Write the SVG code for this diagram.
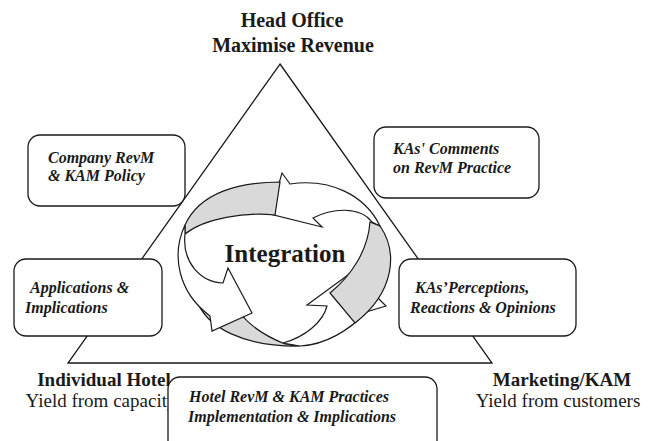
<svg xmlns="http://www.w3.org/2000/svg" width="660" height="441" viewBox="0 0 660 441">
<defs>
<style>
.bg{fill:#ffffff}
.edge{fill:none;stroke:#1a1a1a;stroke-width:1.3;stroke-linejoin:miter}
.box{fill:#ffffff;stroke:#1a1a1a;stroke-width:1.3}
.rib{fill:#ffffff;stroke:#1a1a1a;stroke-width:1.2;stroke-linejoin:miter}
.gray{fill:#d9d9d9;stroke:#1a1a1a;stroke-width:1.2;stroke-linejoin:miter}
.hd{font-family:"Liberation Serif","Times New Roman",serif;font-weight:bold;font-size:20px;fill:#1a1a1a;text-anchor:middle}
.hd2{font-family:"Liberation Serif","Times New Roman",serif;font-weight:bold;font-size:19px;fill:#1a1a1a;text-anchor:middle}
.sub{font-family:"Liberation Serif","Times New Roman",serif;font-size:19px;fill:#1a1a1a;text-anchor:middle}
.bi{font-family:"Liberation Serif","Times New Roman",serif;font-weight:bold;font-style:italic;font-size:16px;fill:#1a1a1a}
.big{font-family:"Liberation Serif","Times New Roman",serif;font-weight:bold;font-size:25px;fill:#1a1a1a;text-anchor:middle}
</style>
</defs>
<rect class="bg" x="0" y="0" width="660" height="441"/>

<g id="connectors">
<polygon class="edge" points="280,64 492,363 68,363"/>
</g>

<g id="head-office">
<text class="hd" x="292" y="27">Head Office</text>
<text class="hd" x="293" y="52">Maximise Revenue</text>
</g>

<g id="individual-hotel">
<text class="hd2" x="104" y="386">Individual Hotel</text>
<text class="sub" x="101" y="407">Yield from capacity</text>
</g>

<g id="marketing-kam">
<text class="hd2" x="562" y="386">Marketing/KAM</text>
<text class="sub" x="558" y="407">Yield from customers</text>
</g>

<g id="company-policy">
<rect class="box" x="28" y="135" width="157" height="71" rx="12"/>
<text class="bi" x="48" y="163">Company RevM</text>
<text class="bi" x="48" y="181">&amp; KAM Policy</text>
</g>

<g id="applications">
<rect class="box" x="14" y="259" width="148" height="77" rx="12"/>
<text class="bi" x="30" y="293">Applications &amp;</text>
<text class="bi" x="25" y="313">Implications</text>
</g>

<g id="kas-comments">
<rect class="box" x="374" y="127" width="165" height="71" rx="12"/>
<text class="bi" x="393" y="154">KAs' Comments</text>
<text class="bi" x="393" y="173">on RevM Practice</text>
</g>

<g id="kas-perceptions">
<rect class="box" x="399" y="259" width="177" height="77" rx="12"/>
<text class="bi" x="415" y="293">KAs’Perceptions,</text>
<text class="bi" x="410" y="313">Reactions &amp; Opinions</text>
</g>

<g id="hotel-practices">
<rect class="box" x="168" y="377" width="269" height="90" rx="12"/>
<text class="bi" x="189" y="402">Hotel RevM &amp; KAM Practices</text>
<text class="bi" x="188" y="422">Implementation &amp; Implications</text>
</g>

<g id="integration">
<path class="gray" d="M285,344 C265,336 250,326 240,313 L196,298 C205,328 245,347 300,346 Z"/>
<path class="rib" d="M283,343 C305,337 323,322 327,306 L307,305 L352,272 L386,306 L366,312 C350,330 325,345 300,346 Z"/>
<path class="gray" d="M380,226 C398,252 395,292 355,323 L330,293 C352,275 368,250 370,222 Z"/>
<path class="rib" d="M290,184 L282,173 L270,214 L322,227 L313,218 C332,208 360,206 372,222 L380,226 C365,195 330,178 290,184 Z"/>
<path class="gray" d="M280,182 C240,182 200,192 185,225 L185,234 C205,218 245,212 275,215 Z"/>
<path class="rib" d="M185,225 C171,255 178,292 210,316 L212,331 L252,313 L228,268 L223,283 C200,282 182,262 185,234 Z"/>
<text class="big" x="285" y="262">Integration</text>
</g>
</svg>
